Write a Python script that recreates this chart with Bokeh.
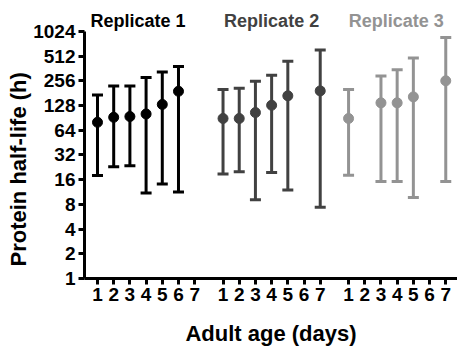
from bokeh.plotting import figure
from bokeh.models import Range1d, FixedTicker, ColumnDataSource, Title
from bokeh.core.properties import value
from bokeh.embed import file_html
from bokeh.resources import INLINE

# ---- data ----
days = [1, 2, 3, 4, 5, 6, 7]
replicates = ["Replicate 1", "Replicate 2", "Replicate 3"]

days1 = [1, 2, 3, 4, 5, 6]
mean1 = [80, 92, 94, 101, 132, 191]
upper1 = [172, 222, 222, 280, 328, 382]
lower1 = [18, 23, 23.6, 11, 14.2, 11.3]

days2 = [1, 2, 3, 4, 5, 7]
mean2 = [89, 89, 105, 129, 168, 193]
upper2 = [201, 208, 253, 300, 443, 608]
lower2 = [18.8, 20, 9.1, 19.5, 12, 7.4]

days3 = [1, 3, 4, 5, 7]
mean3 = [89, 138, 138, 163, 256]
upper3 = [201, 294, 350, 486, 860]
lower3 = [18.1, 15.2, 15.2, 9.7, 15.2]

y_ticks = [1, 2, 4, 8, 16, 32, 64, 128, 256, 512, 1024]

# ---- layout helpers ----
SPACING = 4
offsets = [0, 31, 62]
colors = ["#000000", "#414141", "#939393"]
FONT = "Liberation Sans"
W, H = 457, 348
LEFT, BOTTOM = 84, 69
PX_PER_DOUBLING = 24.8           # vertical pixels per factor of two
frame_h = H - BOTTOM
y_top = 2 ** (frame_h / PX_PER_DOUBLING)   # frame extends above 1024 for titles

p = figure(width=W, height=H, y_axis_type="log",
           x_range=Range1d(0.79, 92.9), y_range=Range1d(1, y_top),
           output_backend="svg", toolbar_location=None,
           min_border_left=LEFT, min_border_right=0, min_border_top=0,
           min_border_bottom=BOTTOM)
p.outline_line_color = None
p.grid.visible = False

series = [(days1, mean1, upper1, lower1),
          (days2, mean2, upper2, lower2),
          (days3, mean3, upper3, lower3)]

for (d, m, u, l), off, c in zip(series, offsets, colors):
    xs = [off + SPACING * k for k in d]
    p.segment(x0=xs, y0=l, x1=xs, y1=u, line_color=c, line_width=3)
    p.scatter(x=xs, y=u, marker="dash", size=11, line_color=c, line_width=3)
    p.scatter(x=xs, y=l, marker="dash", size=11, line_color=c, line_width=3)
    p.scatter(x=xs, y=m, marker="circle", size=10, fill_color=c, line_color=c)

# replicate titles (inside the frame, above the 1024 limit of the axis)
title_x = [14.0, 47, 77.8]
title_y = 2 ** ((frame_h - 21) / PX_PER_DOUBLING)
tsrc = ColumnDataSource(dict(x=title_x, y=[title_y] * 3, text=replicates, color=colors))
p.text(x="x", y="y", text="text", source=tsrc, text_color="color",
       text_font=value(FONT), text_font_style="bold", text_font_size="18px",
       text_align="center", text_baseline="middle")

# x ticks
tick_pos = []
overrides = {}
for off in offsets:
    for k in days:
        pos = off + SPACING * k
        tick_pos.append(pos)
        overrides[pos] = str(k)
p.xaxis.ticker = FixedTicker(ticks=tick_pos)
p.xaxis.major_label_overrides = overrides
p.yaxis.ticker = FixedTicker(ticks=y_ticks)
p.yaxis.major_label_overrides = {t: str(t) for t in y_ticks}
p.yaxis.bounds = (1, 1024)

for ax in (p.xaxis, p.yaxis):
    ax.axis_line_width = 3
    ax.axis_line_color = "black"
    ax.major_tick_line_width = 3
    ax.major_tick_line_color = "black"
    ax.major_tick_out = 6
    ax.major_tick_in = 0
    ax.minor_tick_line_color = None
    ax.major_label_text_font = FONT
    ax.major_label_text_font_style = "bold"
    ax.major_label_text_font_size = "19px"
    ax.major_label_text_color = "black"
p.xaxis.major_label_standoff = 3
p.yaxis.major_label_standoff = 3
p.xaxis.axis_label = "Adult age (days)"
p.xaxis.axis_label_text_font = FONT
p.xaxis.axis_label_text_font_style = "bold"
p.xaxis.axis_label_text_font_size = "22px"
p.xaxis.axis_label_text_color = "black"
p.xaxis.axis_label_standoff = 17

ylab = Title(text="Protein half-life (h)", align="left", offset=12, standoff=0,
             text_font=FONT, text_font_style="bold", text_font_size="22px",
             text_color="black")
p.add_layout(ylab, "left")

open("out.html", "w").write(file_html(p, INLINE))
